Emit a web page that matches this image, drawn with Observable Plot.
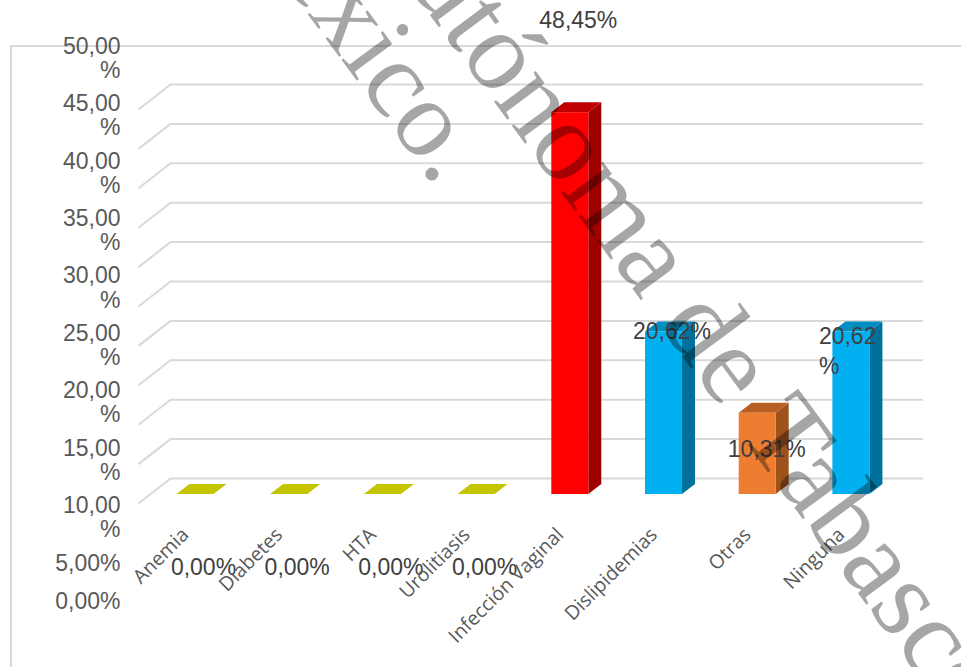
<!DOCTYPE html>
<html>
<head>
<meta charset="utf-8">
<script src="https://cdn.jsdelivr.net/npm/d3@7"></script>
<script src="https://cdn.jsdelivr.net/npm/@observablehq/plot@0.6"></script>
<style>
  html, body { margin: 0; padding: 0; background: #fff; }
  #wrap { position: relative; width: 961px; height: 667px; overflow: hidden; background: #fff; }
  #wrap > * { position: absolute; left: 0; top: 0; }
  #border { left: 10px; top: 45px; width: 960px; height: 640px; border-left: 2px solid #d9d9d9; border-top: 2px solid #d9d9d9; }
  #watermark { pointer-events: none; }
  #watermark text { font-family: "Liberation Serif", "DejaVu Serif", serif; }
</style>
</head>
<body>
<div id="wrap">
  <div id="border"></div>
</div>
<script>
// ---------- data ----------
const categories = ["Anemia", "Diabetes", "HTA", "Urolitiasis", "Infección Vaginal", "Dislipidemias", "Otras", "Ninguna"];
const values = [0, 0, 0, 0, 48.45, 20.62, 10.31, 20.62];
const valueLabels = ["0,00%", "0,00%", "0,00%", "0,00%", "48,45%", "20,62%", "10,31%", "20,62%"];
const yTicks = [0, 5, 10, 15, 20, 25, 30, 35, 40, 45, 50];
const yTickLabels = ["0,00%", "5,00%", "10,00%", "15,00%", "20,00%", "25,00%", "30,00%", "35,00%", "40,00%", "45,00%", "50,00%"];
const watermarkLines = ["México.", "Autónoma de Tabasco"];

// ---------- styles ----------
const faceColors = {
  Anemia:      {front: "#c4c400", top: "#c4c400", side: "#8a8a00"},
  Diabetes:    {front: "#c4c400", top: "#c4c400", side: "#8a8a00"},
  HTA:         {front: "#c4c400", top: "#c4c400", side: "#8a8a00"},
  Urolitiasis: {front: "#c4c400", top: "#c4c400", side: "#8a8a00"},
  "Infección Vaginal": {front: "#ff0000", top: "#c00000", side: "#a00000"},
  Dislipidemias: {front: "#00b0f0", top: "#008ec2", side: "#00709c"},
  Otras:       {front: "#ed7d31", top: "#b75f22", side: "#a0521c"},
  Ninguna:     {front: "#00b0f0", top: "#008ec2", side: "#00709c"}
};
// label placement (pixel offsets from the bar's top/front centre)
const labelPlacement = {
  Anemia: {dx: 8, dy: 73}, Diabetes: {dx: 8, dy: 73}, HTA: {dx: 8, dy: 73}, Urolitiasis: {dx: 8, dy: 73},
  "Infección Vaginal": {dx: 8, dy: -92},
  Dislipidemias: {dx: 8, dy: 0},
  Otras: {dx: 9, dy: 36}
};

const W = 961, H = 667;
const xRange = [148.15, 897.75];
const yRange = [494, 100];
const xPx = d3.scaleLinear([-0.5, 7.5], xRange);
const kx = (xRange[1] - xRange[0]) / 8;   // px per category
const ky = (yRange[0] - yRange[1]) / 50;  // px per percent
const HALF = 18.5 / kx;                   // half front-face width
const DX = 13 / kx, DY = 10 / ky;         // bar depth
const WALL = 16 / ky;                     // back wall offset
const WALL_DY = 25 / ky;                  // floor depth (left diagonals)
const LEFT_BACK = xPx.invert(170), LEFT_FRONT = xPx.invert(138);

const rows = categories.map((c, i) => ({c, i, v: values[i], label: valueLabels[i]}));
const bars = rows.filter(d => d.v > 0);
const sidePts = bars.flatMap(d => [
  {c: d.c, x: d.i + HALF, y1: 0, y2: d.v},
  {c: d.c, x: d.i + HALF + DX, y1: DY, y2: d.v + DY}
]);
const topPts = rows.flatMap(d => [
  {c: d.c, y: d.v, x1: d.i - HALF, x2: d.i + HALF},
  {c: d.c, y: d.v + DY, x1: d.i - HALF + DX, x2: d.i + HALF + DX}
]);

const valueFont = {fontFamily: "Liberation Sans, Arial, sans-serif", fontSize: 23, fill: "#404040"};

const labelMarks = Object.entries(labelPlacement).map(([cat, p]) =>
  Plot.text(rows.filter(d => d.c === cat), {x: "i", y: "v", text: "label", dx: p.dx, dy: p.dy, ...valueFont})
);

const main = Plot.plot({
  width: W, height: H,
  marginLeft: 170, marginRight: 38, marginTop: 0, marginBottom: 0,
  x: {type: "linear", domain: [-0.5, 7.5], range: xRange, axis: null},
  y: {type: "linear", domain: [0, 50], range: yRange, axis: null},
  style: {background: "transparent", overflow: "visible"},
  marks: [
    Plot.ruleY(yTicks, {y: d => d + WALL, stroke: "#d9d9d9", strokeWidth: 2}),
    Plot.link(yTicks, {x1: LEFT_FRONT, x2: LEFT_BACK, y1: d => d + WALL - WALL_DY, y2: d => d + WALL, stroke: "#d9d9d9", strokeWidth: 2}),
    Plot.areaY(sidePts, {x: "x", y1: "y1", y2: "y2", z: "c", fill: d => faceColors[d.c].side, curve: "linear"}),
    Plot.areaX(topPts, {y: "y", x1: "x1", x2: "x2", z: "c", fill: d => faceColors[d.c].top, curve: "linear"}),
    Plot.rect(bars, {x1: d => d.i - HALF, x2: d => d.i + HALF, y1: 0, y2: "v", fill: d => faceColors[d.c].front}),
    ...labelMarks,
    Plot.text(rows.filter(d => d.c === "Ninguna"), {x: d => d.i - HALF, y: "v", text: d => d.label.replace("%", "\n%"), textAnchor: "start", lineAnchor: "top", dx: -14, dy: -9, lineHeight: 1.3, ...valueFont}),
    Plot.text(rows, {x: "i", y: 0, text: "c", rotate: -45, textAnchor: "end", dx: -10, dy: 37, fontFamily: "Open Sans, sans-serif", fontSize: 19.5, fill: "#595959"})
  ]
});

const yAxisPlot = Plot.plot({
  width: W, height: H,
  margin: 0,
  x: {axis: null},
  y: {type: "linear", domain: [0, 5, 50], range: [591, 553, 36], axis: null},
  style: {background: "transparent", overflow: "visible"},
  marks: [
    Plot.text(yTicks, {
      y: d => d,
      text: (d, i) => yTickLabels[i].length > 5 ? yTickLabels[i].replace("%", "\n%") : yTickLabels[i],
      frameAnchor: "left", dx: 120, textAnchor: "end", lineAnchor: "top", lineHeight: 1.05,
      fontFamily: "Liberation Sans, Arial, sans-serif", fontSize: 23, fill: "#595959"
    })
  ]
});

const wrap = document.getElementById("wrap");
wrap.appendChild(main);
wrap.appendChild(yAxisPlot);

// watermark overlay
const wm = d3.create("svg").attr("id", "watermark").attr("width", W).attr("height", H);
const wmSpec = [{x: 220, y: -104, size: 110}, {x: 358, y: -82, size: 113}];
watermarkLines.forEach((t, i) => {
  wm.append("text")
    .attr("transform", `translate(${wmSpec[i].x},${wmSpec[i].y}) rotate(53.5)`)
    .attr("font-size", wmSpec[i].size)
    .attr("fill", "#000").attr("fill-opacity", 0.35)
    .text(t);
});
wrap.appendChild(wm.node());
</script>
</body>
</html>
